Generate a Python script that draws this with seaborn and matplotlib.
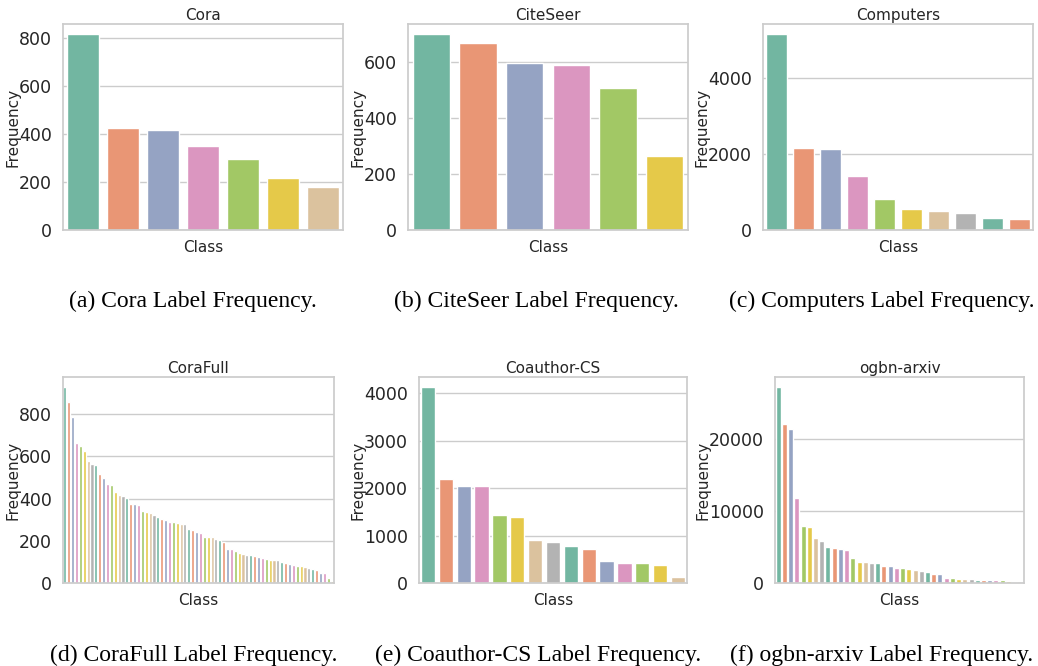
import matplotlib
matplotlib.use("Agg")
import matplotlib.pyplot as plt
from matplotlib.ticker import MultipleLocator
import seaborn as sns
import pandas as pd

# ---------------- data ----------------
cora_freq = [818, 426, 418, 351, 298, 217, 180]
citeseer_freq = [701, 668, 596, 590, 508, 264]
computers_freq = [5158, 2156, 2142, 1414, 818, 542, 487, 436, 308, 291]
corafull_freq = [930, 857, 786, 663, 651, 625, 578, 563, 557, 519,
                 500, 471, 465, 433, 419, 413, 403, 376, 375, 368,
                 341, 338, 332, 322, 314, 303, 300, 290, 290, 283,
                 281, 278, 254, 251, 241, 238, 219, 219, 219, 210,
                 203, 195, 162, 160, 151, 143, 138, 135, 135, 129,
                 122, 119, 113, 111, 110, 108, 100, 95, 90, 87,
                 81, 79, 76, 70, 68, 60, 49, 48, 24, 11]
coauthor_freq = [4136, 2192, 2050, 2037, 1444, 1391, 912, 873, 774, 708,
                 462, 429, 415, 371, 118]
arxiv_freq = [27321, 22187, 21406, 11814, 7869, 7867, 6232, 5862, 4958, 4849,
              4785, 4605, 3525, 2885, 2864, 2848, 2814, 2377, 2338, 2051,
              2038, 1990, 1843, 1608, 1487, 1262, 1224, 727, 696, 598,
              531, 524, 453, 404, 396, 355, 349, 300, 80, 29]

titles = ["Cora", "CiteSeer", "Computers", "CoraFull", "Coauthor-CS", "ogbn-arxiv"]
captions = ["(a) Cora Label Frequency.", "(b) CiteSeer Label Frequency.",
            "(c) Computers Label Frequency.", "(d) CoraFull Label Frequency.",
            "(e) Coauthor-CS Label Frequency.", "(f) ogbn-arxiv Label Frequency."]
tick_steps = [200, 200, 2000, 200, 1000, 10000]
datasets = [cora_freq, citeseer_freq, computers_freq, corafull_freq, coauthor_freq, arxiv_freq]

# ---------------- layout (pixels) ----------------
W, H = 1038, 666
boxes = [(63, 343, 24, 230), (408, 688, 24, 230), (763, 1033, 24, 230),
         (63, 334, 377, 583), (419, 687, 377, 583), (775, 1024, 377, 583)]
cap_pos = [(193, 301), (536, 301), (882, 301), (194, 655), (538, 655), (882, 655)]

sns.set_theme(style="whitegrid")
plt.rcParams['font.family'] = ['DejaVu Sans']

fig = plt.figure(figsize=(W / 100, H / 100), dpi=100)

for freq, title, cap, step, (l, r, t, b), (cx, cy) in zip(
        datasets, titles, captions, tick_steps, boxes, cap_pos):
    ax = fig.add_axes([l / W, 1 - b / H, (r - l) / W, (b - t) / H])
    df = pd.DataFrame({"Class": [str(i) for i in range(len(freq))], "Frequency": freq})
    sns.barplot(data=df, x="Class", y="Frequency", hue="Class", palette="Set2",
                legend=False, ax=ax, edgecolor="white", linewidth=1.0)
    ax.set_xticks([])
    ax.yaxis.set_major_locator(MultipleLocator(step))
    ax.set_title(title, fontsize=11, color=".15", pad=3)
    ax.set_xlabel("Class", fontsize=11, color=".15", labelpad=7)
    ax.set_ylabel("Frequency", fontsize=11, color=".15", labelpad=-1)
    ax.tick_params(axis="y", labelsize=12.5, pad=2, colors=".15")
    ax.grid(axis="x", visible=False)
    for s in ax.spines.values():
        s.set_color("#cccccc")
    fig.text(cx / W, 1 - cy / H, cap, ha="center", va="center",
             fontsize=17, family=["Liberation Serif"], color="black")

fig.savefig("out.png", dpi=100)
